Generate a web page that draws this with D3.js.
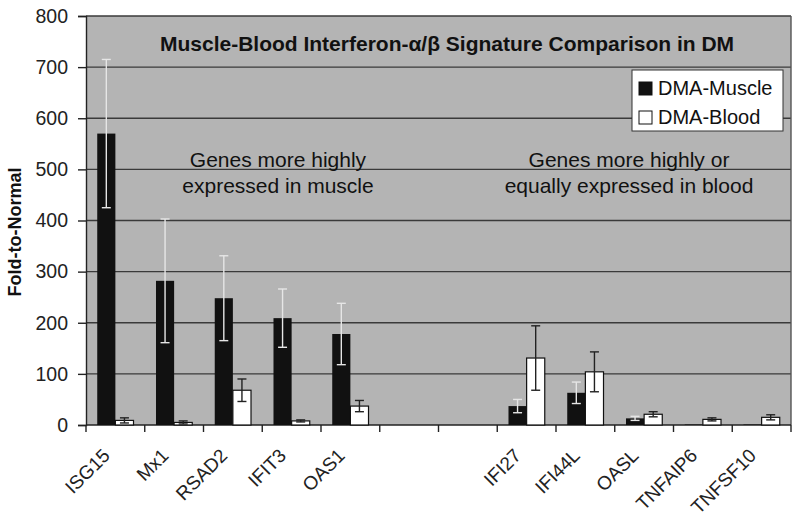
<!DOCTYPE html>
<html><head><meta charset="utf-8">
<script src="https://cdn.jsdelivr.net/npm/d3@7"></script>
<style>body{margin:0;background:#fff;} text{font-family:"Liberation Sans",Arial,sans-serif;}</style>
</head><body>
<svg id="c" width="800" height="527"></svg>
<script>
const categories = ["ISG15","Mx1","RSAD2","IFIT3","OAS1","","","IFI27","IFI44L","OASL","TNFAIP6","TNFSF10"];
const muscle    = [570,282,248,209,178,null,null,37,63,13,1,1];
const muscleErr = [145,121,83,57,60,null,null,13,21,4,0,0];
const blood     = [9,5,68,8,37,null,null,131,104,21,11,15];
const bloodErr  = [5,3,22,2,11,null,null,63,39,5,3,5];
const yTicks = [0,100,200,300,400,500,600,700,800];
const seriesNames = ["DMA-Muscle","DMA-Blood"];
const title = "Muscle-Blood Interferon-\u03b1/\u03b2 Signature Comparison in DM";
const yLabel = "Fold-to-Normal";
const noteLeft = ["Genes more highly","expressed in muscle"];
const noteRight = ["Genes more highly or","equally expressed in blood"];

const svg = d3.select("#c");
const L=86, R=791, T=16, B=425;
const x = d3.scaleBand().domain(d3.range(categories.length)).range([L,R]).paddingInner(0).paddingOuter(0);
const inner = d3.scaleBand().domain([0,1]).range([0,x.bandwidth()]).paddingInner(0).paddingOuter(0.62);
const y = d3.scaleLinear().domain([0,800]).range([B,T]);

svg.append("rect").attr("x",L).attr("y",T).attr("width",R-L).attr("height",B-T).attr("fill","#b4b4b4");
// gridlines
svg.append("g").selectAll("line").data(yTicks.filter(d=>d>0)).join("line")
  .attr("x1",L).attr("x2",R).attr("y1",d=>y(d)).attr("y2",d=>y(d))
  .attr("stroke","#3a3a3a").attr("stroke-width",1.4);
svg.append("line").attr("x1",R).attr("x2",R).attr("y1",T).attr("y2",B).attr("stroke","#555").attr("stroke-width",1.4);

// y axis
const ya = svg.append("g").attr("transform",`translate(${L},0)`)
  .call(d3.axisLeft(y).tickValues(yTicks).tickSize(8).tickPadding(10));
ya.select(".domain").attr("stroke","#222").attr("stroke-width",1.4);
ya.selectAll(".tick line").attr("stroke","#222").attr("stroke-width",1.4);
ya.selectAll(".tick text").attr("font-size",19.5).attr("fill","#222").attr("font-family","Liberation Sans, Arial, sans-serif");

// x axis line & boundary ticks
svg.append("line").attr("x1",L).attr("x2",R).attr("y1",B).attr("y2",B).attr("stroke","#222").attr("stroke-width",1.4);
const bounds = d3.range(categories.length+1).map(i => i<categories.length ? x(i) : R);
svg.append("g").selectAll("line").data(bounds).join("line")
  .attr("x1",d=>d).attr("x2",d=>d).attr("y1",B).attr("y2",B+7).attr("stroke","#222").attr("stroke-width",1.4);

// bars
const idx = d3.range(categories.length).filter(i=>muscle[i]!==null);
const g = svg.append("g");
g.selectAll(".m").data(idx).join("rect").attr("class","m")
  .attr("x",i=>x(i)+inner(0)).attr("width",inner.bandwidth())
  .attr("y",i=>y(muscle[i])).attr("height",i=>B-y(muscle[i])).attr("fill","#111");
g.selectAll(".b").data(idx).join("rect").attr("class","b")
  .attr("x",i=>x(i)+inner(1)).attr("width",inner.bandwidth())
  .attr("y",i=>y(blood[i])).attr("height",i=>B-y(blood[i])).attr("fill","#fff").attr("stroke","#111").attr("stroke-width",1.2);

function errBars(vals, errs, k, color){
  const eg = svg.append("g").attr("stroke",color).attr("stroke-width",1.4);
  idx.filter(i=>errs[i]>0).forEach(i=>{
    const cx = x(i)+inner(k)+inner.bandwidth()/2;
    const y1=y(vals[i]+errs[i]), y0=y(Math.max(0,vals[i]-errs[i]));
    eg.append("line").attr("x1",cx).attr("x2",cx).attr("y1",y1).attr("y2",y0);
    eg.append("line").attr("x1",cx-4.5).attr("x2",cx+4.5).attr("y1",y1).attr("y2",y1);
    eg.append("line").attr("x1",cx-4.5).attr("x2",cx+4.5).attr("y1",y0).attr("y2",y0);
  });
}
errBars(muscle,muscleErr,0,"#e6e6e6");
errBars(blood,bloodErr,1,"#222");

// x labels
svg.append("g").selectAll("text").data(d3.range(categories.length).filter(i=>categories[i])).join("text")
  .attr("transform",i=>`translate(${x(i)+x.bandwidth()/2-9},${B+27}) rotate(-45)`)
  .attr("text-anchor","end").attr("dy","0.35em").attr("font-size",19).attr("fill","#222")
  .text(i=>categories[i]);

// title
svg.append("text").attr("x",447).attr("y",51).attr("text-anchor","middle")
  .attr("font-size",21).attr("font-weight","bold").attr("fill","#111").text(title);

// notes
[[noteLeft,278],[noteRight,629]].forEach(([lines,cx])=>{
  lines.forEach((t,j)=>svg.append("text").attr("x",cx).attr("y",167+j*26).attr("text-anchor","middle")
    .attr("font-size",21).attr("fill","#111").text(t));
});

// y label
svg.append("text").attr("transform","translate(21,232) rotate(-90)").attr("text-anchor","middle")
  .attr("font-size",18).attr("font-weight","bold").attr("fill","#111").text(yLabel);

// legend
const lg = svg.append("g");
lg.append("rect").attr("x",632).attr("y",70).attr("width",151).attr("height",61).attr("fill","#fff").attr("stroke","#333").attr("stroke-width",1);
seriesNames.forEach((n,j)=>{
  lg.append("rect").attr("x",639).attr("y",82+j*29).attr("width",13).attr("height",13)
    .attr("fill",j===0?"#111":"#fff").attr("stroke","#111").attr("stroke-width",1);
  lg.append("text").attr("x",658).attr("y",95+j*29).attr("font-size",20).attr("fill","#111").text(n);
});
</script>
</body></html>
